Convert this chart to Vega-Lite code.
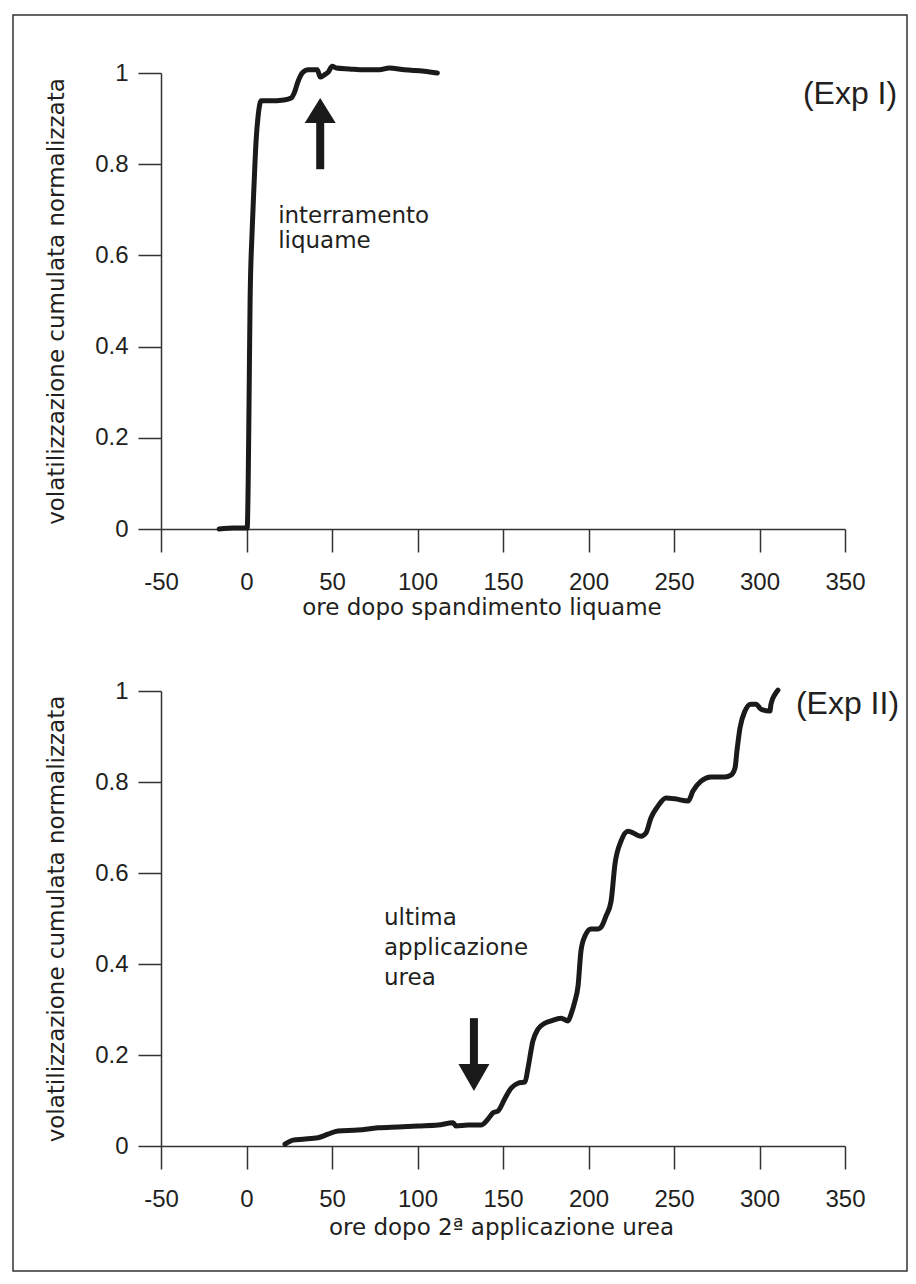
{
  "$schema": "https://vega.github.io/schema/vega-lite/v6.json",
  "padding": {"left": 12, "top": 14, "right": 10, "bottom": 14},
  "background": "white",
  "bounds": "flush",
  "spacing": 162,
  "config": {
    "view": {"stroke": null},
    "axis": {
      "grid": false,
      "domainColor": "#333333",
      "tickColor": "#333333",
      "domainWidth": 1.5,
      "tickWidth": 1.5,
      "tickSize": 23,
      "labelFont": "Liberation Sans",
      "labelFontSize": 24,
      "labelColor": "#231f20",
      "labelFlush": false,
      "labelOverlap": false,
      "titleFont": "DejaVu Sans",
      "titleFontSize": 23,
      "titleFontWeight": "normal",
      "titleColor": "#231f20"
    },
    "axisX": {"labelPadding": 18},
    "axisY": {"labelPadding": 10}
  },
  "datasets": {
    "frame": [{"x": -136.55, "x2": 386.26, "y": 1.1272, "y2": -1.6272}],
    "exp1": [
      {"x": -16, "y": 0}, {"x": -7.2, "y": 0.002}, {"x": 0.4, "y": 0.002}, {"x": 1.0, "y": 0.105},
      {"x": 1.5, "y": 0.28}, {"x": 2.1, "y": 0.5}, {"x": 3.3, "y": 0.654}, {"x": 4.5, "y": 0.763},
      {"x": 5.6, "y": 0.851}, {"x": 6.8, "y": 0.906}, {"x": 8.6, "y": 0.939}, {"x": 13.3, "y": 0.939},
      {"x": 22.0, "y": 0.941}, {"x": 26.1, "y": 0.945}, {"x": 27.9, "y": 0.956}, {"x": 30.2, "y": 0.982},
      {"x": 32.6, "y": 1.0}, {"x": 36.1, "y": 1.007}, {"x": 41.4, "y": 1.007}, {"x": 43.1, "y": 0.991},
      {"x": 45.5, "y": 0.996}, {"x": 47.8, "y": 1.002}, {"x": 50.1, "y": 1.015}, {"x": 52.5, "y": 1.011},
      {"x": 60.1, "y": 1.009}, {"x": 68.9, "y": 1.007}, {"x": 77.7, "y": 1.007}, {"x": 83.5, "y": 1.011},
      {"x": 92.3, "y": 1.007}, {"x": 104.0, "y": 1.004}, {"x": 111.6, "y": 1.0}
    ],
    "exp2": [
      {"x": 22.5, "y": 0.004}, {"x": 27.2, "y": 0.013}, {"x": 33, "y": 0.015}, {"x": 41.8, "y": 0.018},
      {"x": 47.7, "y": 0.026}, {"x": 53.5, "y": 0.033}, {"x": 65.2, "y": 0.035}, {"x": 76.9, "y": 0.04},
      {"x": 88.6, "y": 0.042}, {"x": 100.3, "y": 0.044}, {"x": 112, "y": 0.046}, {"x": 120.8, "y": 0.051},
      {"x": 122.5, "y": 0.044}, {"x": 129.5, "y": 0.046}, {"x": 137.1, "y": 0.046}, {"x": 141.2, "y": 0.059},
      {"x": 144.2, "y": 0.073}, {"x": 147.1, "y": 0.077}, {"x": 151.2, "y": 0.105}, {"x": 154.7, "y": 0.127},
      {"x": 158.8, "y": 0.138}, {"x": 162.9, "y": 0.141}, {"x": 164.6, "y": 0.171}, {"x": 167.5, "y": 0.231},
      {"x": 170.5, "y": 0.257}, {"x": 174.6, "y": 0.27}, {"x": 178.1, "y": 0.275}, {"x": 183.9, "y": 0.281},
      {"x": 188, "y": 0.275}, {"x": 189.8, "y": 0.29}, {"x": 192.1, "y": 0.319}, {"x": 193.9, "y": 0.352},
      {"x": 195.6, "y": 0.429}, {"x": 198, "y": 0.462}, {"x": 201.5, "y": 0.477}, {"x": 205.6, "y": 0.477},
      {"x": 207.9, "y": 0.484}, {"x": 210.2, "y": 0.505}, {"x": 213.2, "y": 0.538}, {"x": 215.5, "y": 0.62},
      {"x": 219, "y": 0.67}, {"x": 223.1, "y": 0.692}, {"x": 230.7, "y": 0.681}, {"x": 233.6, "y": 0.688},
      {"x": 236.5, "y": 0.721}, {"x": 240.6, "y": 0.747}, {"x": 245.3, "y": 0.765}, {"x": 250.6, "y": 0.763},
      {"x": 258.2, "y": 0.758}, {"x": 261.1, "y": 0.78}, {"x": 265.8, "y": 0.802}, {"x": 271.6, "y": 0.811},
      {"x": 279.8, "y": 0.811}, {"x": 283.3, "y": 0.815}, {"x": 285.7, "y": 0.831}, {"x": 286.8, "y": 0.868},
      {"x": 288.6, "y": 0.919}, {"x": 291.5, "y": 0.956}, {"x": 295, "y": 0.971}, {"x": 298, "y": 0.971},
      {"x": 300.9, "y": 0.96}, {"x": 306.1, "y": 0.956}, {"x": 306.7, "y": 0.971}, {"x": 309.1, "y": 0.993},
      {"x": 310.8, "y": 1.002}
    ],
    "arrow1": [{"x": 43.1, "y": 0.789, "y2": 0.895}],
    "head1": [{"x": 43.1, "y": 0.918}],
    "arrow2": [{"x": 133, "y": 0.281, "y2": 0.175}],
    "head2": [{"x": 133, "y": 0.1505}],
    "label1": [{"x": 325.4, "y": 0.932, "t": "(Exp I)"}],
    "label2": [{"x": 321.3, "y": 0.949, "t": "(Exp II)"}],
    "note1": [{"x": 18.5, "y": 0.671, "t": "interramento\nliquame"}],
    "note2": [{"x": 80.4, "y": 0.486, "t": "ultima\napplicazione\nurea"}]
  },
  "vconcat": [
    {
      "width": 684,
      "height": 456,
      "encoding": {
        "x": {
          "field": "x", "type": "quantitative",
          "scale": {"domain": [-50, 350], "nice": false},
          "axis": {
            "title": "ore dopo spandimento liquame",
            "values": [-50, 0, 50, 100, 150, 200, 250, 300, 350],
            "labelExpr": "toString(datum.value)",
            "titleX": 320.5, "titleY": 85, "titleAlign": "center", "titleBaseline": "alphabetic"
          }
        },
        "y": {
          "field": "y", "type": "quantitative",
          "scale": {"domain": [0, 1], "nice": false},
          "axis": {
            "title": "volatilizzazione cumulata normalizzata",
            "values": [0, 0.2, 0.4, 0.6, 0.8, 1],
            "format": "~g",
            "titleX": -98, "titleY": 228, "titleAngle": 270, "titleAlign": "center", "titleBaseline": "alphabetic"
          }
        }
      },
      "layer": [
        {
          "data": {"name": "frame"},
          "mark": {"type": "rect", "fill": null, "stroke": "#333333", "strokeWidth": 1.5},
          "encoding": {"x2": {"field": "x2"}, "y2": {"field": "y2"}}
        },
        {
          "data": {"name": "exp1"},
          "mark": {"type": "line", "color": "#1a1a1a", "strokeWidth": 5, "strokeJoin": "round", "strokeCap": "round", "interpolate": "monotone"}
        },
        {
          "data": {"name": "arrow1"},
          "mark": {"type": "rule", "color": "#1a1a1a", "strokeWidth": 8},
          "encoding": {"y2": {"field": "y2"}}
        },
        {
          "data": {"name": "head1"},
          "mark": {"type": "point", "shape": "M0,-0.806L1,0.806L-1,0.806Z", "size": 961, "filled": true, "color": "#1a1a1a", "opacity": 1, "strokeWidth": 0}
        },
        {
          "data": {"name": "label1"},
          "mark": {"type": "text", "font": "Liberation Sans", "fontSize": 32, "align": "left", "baseline": "alphabetic", "color": "#231f20"},
          "encoding": {"text": {"field": "t"}}
        },
        {
          "data": {"name": "note1"},
          "mark": {"type": "text", "font": "DejaVu Sans", "fontSize": 23, "align": "left", "baseline": "alphabetic", "lineBreak": "\n", "lineHeight": 25, "color": "#231f20"},
          "encoding": {"text": {"field": "t"}}
        }
      ]
    },
    {
      "width": 684,
      "height": 455,
      "encoding": {
        "x": {
          "field": "x", "type": "quantitative",
          "scale": {"domain": [-50, 350], "nice": false},
          "axis": {
            "title": "ore dopo 2ª applicazione urea",
            "values": [-50, 0, 50, 100, 150, 200, 250, 300, 350],
            "labelExpr": "toString(datum.value)",
            "titleX": 340, "titleY": 88, "titleAlign": "center", "titleBaseline": "alphabetic"
          }
        },
        "y": {
          "field": "y", "type": "quantitative",
          "scale": {"domain": [0, 1], "nice": false},
          "axis": {
            "title": "volatilizzazione cumulata normalizzata",
            "values": [0, 0.2, 0.4, 0.6, 0.8, 1],
            "format": "~g",
            "titleX": -98, "titleY": 227.5, "titleAngle": 270, "titleAlign": "center", "titleBaseline": "alphabetic"
          }
        }
      },
      "layer": [
        {
          "data": {"name": "exp2"},
          "mark": {"type": "line", "color": "#1a1a1a", "strokeWidth": 5, "strokeJoin": "round", "strokeCap": "round", "interpolate": "monotone"}
        },
        {
          "data": {"name": "arrow2"},
          "mark": {"type": "rule", "color": "#1a1a1a", "strokeWidth": 8},
          "encoding": {"y2": {"field": "y2"}}
        },
        {
          "data": {"name": "head2"},
          "mark": {"type": "point", "shape": "M0,0.871L1,-0.871L-1,-0.871Z", "size": 961, "filled": true, "color": "#1a1a1a", "opacity": 1, "strokeWidth": 0}
        },
        {
          "data": {"name": "label2"},
          "mark": {"type": "text", "font": "Liberation Sans", "fontSize": 32, "align": "left", "baseline": "alphabetic", "color": "#231f20"},
          "encoding": {"text": {"field": "t"}}
        },
        {
          "data": {"name": "note2"},
          "mark": {"type": "text", "font": "DejaVu Sans", "fontSize": 23, "align": "left", "baseline": "alphabetic", "lineBreak": "\n", "lineHeight": 30, "color": "#231f20"},
          "encoding": {"text": {"field": "t"}}
        }
      ]
    }
  ]
}
